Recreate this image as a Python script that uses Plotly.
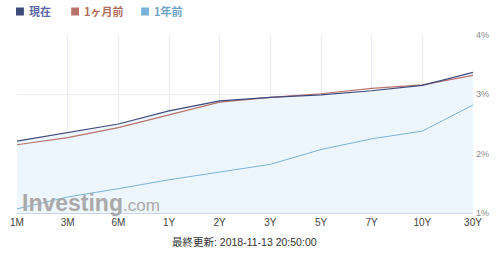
import plotly.graph_objects as go

categories = ["1M", "3M", "6M", "1Y", "2Y", "3Y", "5Y", "7Y", "10Y", "30Y"]
current = [2.21, 2.35, 2.50, 2.72, 2.89, 2.95, 2.99, 3.06, 3.15, 3.37]
month_ago = [2.15, 2.27, 2.44, 2.66, 2.87, 2.95, 3.01, 3.10, 3.16, 3.32]
year_ago = [1.07, 1.27, 1.41, 1.56, 1.69, 1.82, 2.07, 2.25, 2.38, 2.82]
y_ticks = [1, 2, 3, 4]

names = ["現在", "1ヶ月前", "1年前"]
line_colors = ["#3f4a7c", "#b8736b", "#7ab3d6"]
text_colors = ["#5d68a8", "#b06d64", "#6fa3c6"]

W, H = 499, 253
L, R, T, B = 10, 26, 35, 40
pw, ph = W - L - R, H - T - B

def px_x(px):
    return (px - L) / pw

def px_y(py):
    return (H - B - py) / ph

xi = list(range(len(categories)))

fig = go.Figure()
fig.add_trace(go.Scatter(x=xi, y=current, mode="lines", line=dict(width=0),
                         fill="tozeroy", fillcolor="#eef6fd", showlegend=False,
                         hoverinfo="skip"))
fig.add_trace(go.Scatter(x=xi, y=year_ago, mode="lines", name=names[2],
                         line=dict(color=line_colors[2], width=1), showlegend=False))
fig.add_trace(go.Scatter(x=xi, y=month_ago, mode="lines", name=names[1],
                         line=dict(color=line_colors[1], width=1.2), showlegend=False))
fig.add_trace(go.Scatter(x=xi, y=current, mode="lines", name=names[0],
                         line=dict(color=line_colors[0], width=1.2), showlegend=False))

shapes = []
annotations = []
legend_x = [9, 65, 136]
for i in range(3):
    x0 = legend_x[i]
    shapes.append(dict(type="rect", xref="paper", yref="paper",
                       x0=px_x(x0), x1=px_x(x0 + 8), y0=px_y(15.5), y1=px_y(7.5),
                       fillcolor=line_colors[i], line=dict(width=0)))
    annotations.append(dict(xref="paper", yref="paper", x=px_x(x0 + 11), y=px_y(11.5),
                            text="<b>%s</b>" % names[i], showarrow=False,
                            xanchor="left", yanchor="middle",
                            font=dict(size=11, color=text_colors[i],
                                      family="Noto Sans CJK JP")))

annotations.append(dict(xref="paper", yref="paper", x=px_x(13), y=px_y(203),
                        text="<b>Investing</b><span style='font-size:17px'>.com</span>",
                        showarrow=False, xanchor="left", yanchor="middle",
                        font=dict(size=23, color="#aaaaaa", family="Liberation Sans")))
annotations.append(dict(xref="paper", yref="paper", x=px_x(241), y=px_y(242),
                        text="最終更新: 2018-11-13 20:50:00", showarrow=False,
                        xanchor="center", yanchor="middle",
                        font=dict(size=10.5, color="#333333",
                                  family="Liberation Sans, Noto Sans CJK JP")))

fig.update_layout(
    width=W, height=H,
    margin=dict(l=L, r=R, t=T, b=B),
    paper_bgcolor="white", plot_bgcolor="white",
    showlegend=False,
    shapes=shapes, annotations=annotations,
    xaxis=dict(range=[0, len(categories) - 1], tickmode="array", tickvals=xi,
               ticktext=categories, showgrid=True, gridcolor="#e9ecf6", gridwidth=1,
               showline=True, linecolor="#ccd6eb", linewidth=1, zeroline=False,
               tickfont=dict(size=10, color="#444444", family="Liberation Sans"),
               ticks="", fixedrange=True),
    yaxis=dict(range=[1, 4], side="right", tickmode="array", tickvals=y_ticks,
               ticktext=["%d%%" % v for v in y_ticks], showgrid=True,
               gridcolor="#e9ecf6", gridwidth=1, zeroline=False, showline=False,
               tickfont=dict(size=9, color="#888888", family="Liberation Sans"),
               ticks="", ticklabelstandoff=2, fixedrange=True),
)

fig.write_html("out.html")
